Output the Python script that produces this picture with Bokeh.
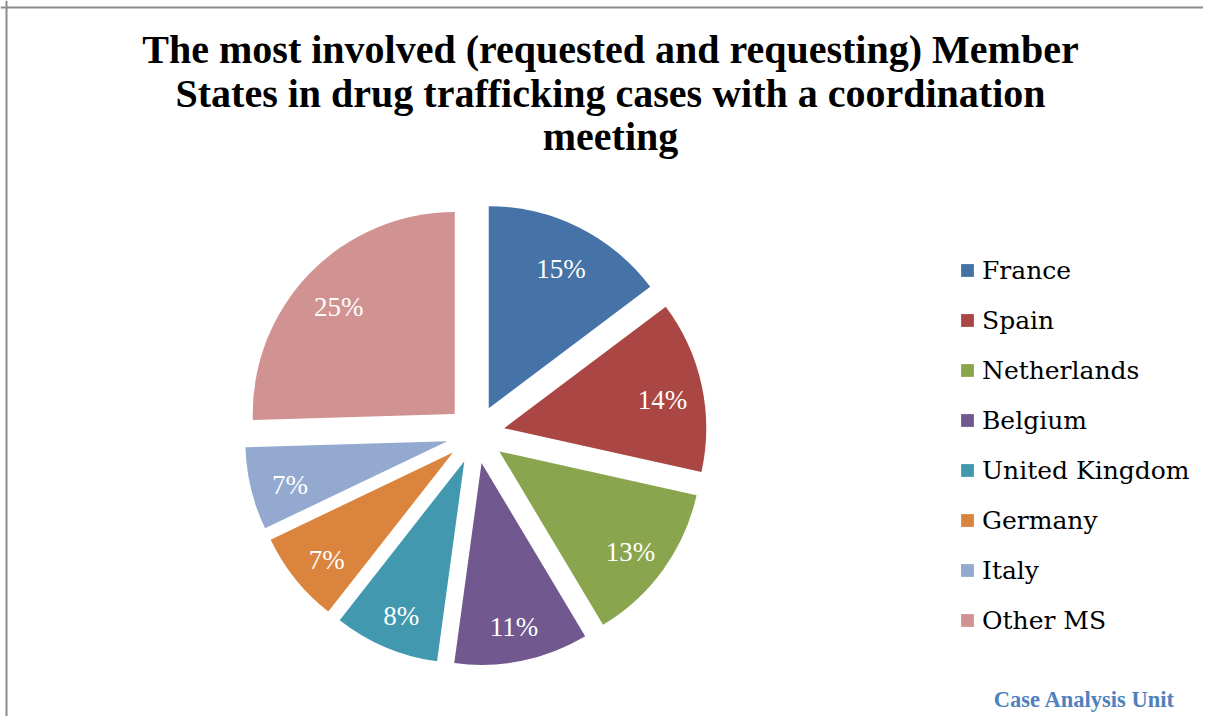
import numpy as np
from bokeh.plotting import figure
from bokeh.models import ColumnDataSource, Span, Label
from bokeh.core.properties import value
from bokeh.embed import file_html
from bokeh.resources import INLINE

# ---- data ----
countries = ["France", "Spain", "Netherlands", "Belgium", "United Kingdom",
             "Germany", "Italy", "Other MS"]
shares = [14.7, 13.7, 12.9, 10.7, 8.4, 7.3, 6.6, 25.4]          # share of cases, %
pct_labels = ["15%", "14%", "13%", "11%", "8%", "7%", "7%", "25%"]
colors = ["#4572A7", "#AA4643", "#89A54E", "#71588F", "#4198AF",
          "#DB843D", "#93A9CF", "#D19392"]
title_lines = ["The most involved (requested and requesting) Member",
               "States in drug trafficking cases with a coordination",
               "meeting"]
credit = "Case Analysis Unit"

# ---- layout ----
W, H = 1203, 716
CX, CY = 475.2, 282.2
RADIUS = 202
EXPLODE = 29.2
LABEL_R = 191

frac = np.array(shares) / np.sum(shares)
cum = np.concatenate([[0.0], np.cumsum(frac)])
a0 = cum[:-1] * 2 * np.pi
a1 = cum[1:] * 2 * np.pi
mid = (a0 + a1) / 2

src = ColumnDataSource(dict(
    country=countries,
    color=colors,
    x=CX + EXPLODE * np.sin(mid),
    y=CY + EXPLODE * np.cos(mid),
    start=np.pi / 2 - a1,
    end=np.pi / 2 - a0,
    lx=CX + LABEL_R * np.sin(mid),
    ly=CY + LABEL_R * np.cos(mid) - 6,
    label=pct_labels,
))

p = figure(width=W, height=H, x_range=(0, W), y_range=(0, H),
           output_backend="svg", toolbar_location=None,
           x_axis_type=None, y_axis_type=None, min_border=0)
p.grid.visible = False
p.outline_line_color = None
p.background_fill_color = "white"
p.border_fill_color = "white"

p.wedge(x="x", y="y", radius=RADIUS, start_angle="start", end_angle="end",
        direction="anticlock", fill_color="color", line_color=None,
        source=src, legend_field="country")

p.text(x="lx", y="ly", text="label", source=src, text_color="white",
       text_font=value("Liberation Serif"), text_font_size="27px",
       text_align="center", text_baseline="middle")

# legend
lg = p.legend[0]
lg.location = (959, 80)
lg.orientation = "vertical"
lg.border_line_color = None
lg.background_fill_alpha = 0
lg.padding = 0
lg.margin = 0
lg.glyph_width = 16
lg.glyph_height = 16
lg.label_height = 32
lg.spacing = 18
lg.label_standoff = 7
lg.label_text_font = "DejaVu Serif"
lg.label_text_font_size = "25px"
lg.label_text_color = "#000000"

# title
for i, line in enumerate(title_lines):
    p.add_layout(Label(x=610, y=667 - i * 43.5, text=line, text_align="center",
                       text_baseline="alphabetic", text_font="Liberation Serif",
                       text_font_style="bold", text_font_size="40px",
                       text_color="#000000"))

# credit
p.add_layout(Label(x=1084, y=17, text=credit, text_align="center",
                   text_baseline="alphabetic", text_font="Liberation Serif",
                   text_font_style="bold", text_font_size="22.5px",
                   text_color="#4F81BD"))

# chart frame (top and left edges)
p.add_layout(Span(location=709, dimension="width", line_color="#8c8c8c", line_width=2))
p.add_layout(Span(location=6, dimension="height", line_color="#8c8c8c", line_width=2))

open("out.html", "w").write(file_html(p, INLINE))
